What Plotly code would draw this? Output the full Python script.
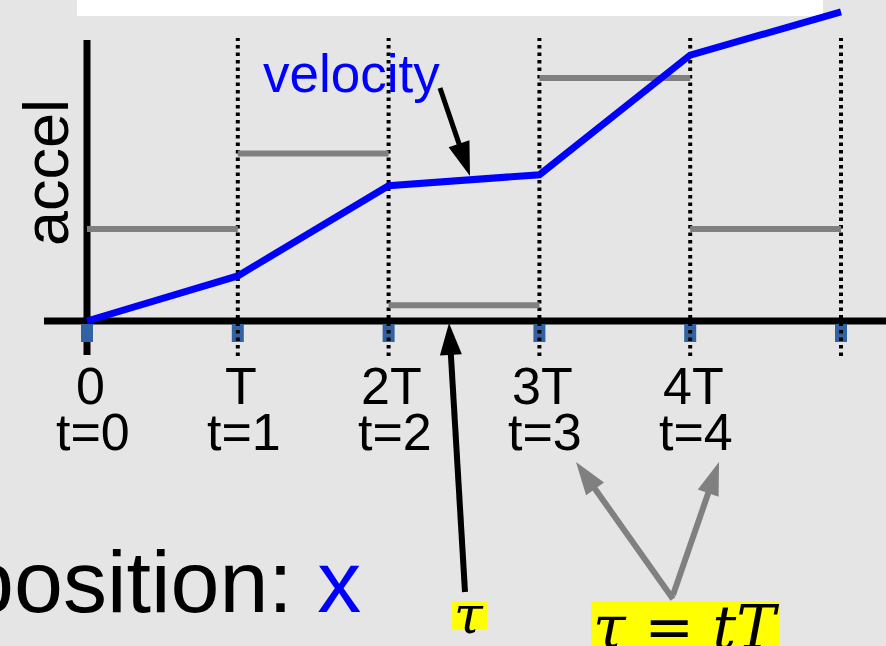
import math
import plotly.graph_objects as go

# ---------------- data ----------------
t_knots = [0, 1, 2, 3, 4, 5]
velocity = [0.0, 0.49, 1.47, 1.59, 2.89, 3.36]
accel = [1.0, 1.82, 0.17, 2.64, 1.0]
tick_top = ["0", "T", "2T", "3T", "4T"]
tick_bottom = ["t=0", "t=1", "t=2", "t=3", "t=4"]

# ---------------- geometry ----------------
W, H = 886, 646
X0, XS = 87, 150.8   # pixel of t=0, pixels per unit of t
Y0, YS = 321, 92     # pixel of value 0, pixels per unit value
xr = [(0 - X0) / XS, (W - X0) / XS]
yr = [(Y0 - H) / YS, Y0 / YS]


def px(x):
    return x / W


def py(y):
    return 1 - y / H


def vy(p):  # pixel row -> data value
    return (Y0 - p) / YS


def tx(p):  # pixel col -> t value
    return (p - X0) / XS


FONT = "Arial, Liberation Sans, sans-serif"
BLUE = "#0000ff"
GRAY = "#808080"

fig = go.Figure()

# acceleration steps
ax_, ay_ = [], []
for i, a in enumerate(accel):
    ax_ += [t_knots[i], t_knots[i + 1], None]
    ay_ += [a, a, None]
fig.add_trace(go.Scatter(x=ax_, y=ay_, mode="lines",
                         line=dict(color=GRAY, width=6), hoverinfo="skip"))
# velocity
fig.add_trace(go.Scatter(x=t_knots, y=velocity, mode="lines",
                         line=dict(color=BLUE, width=7), hoverinfo="skip"))

shapes = []
# white strip at the top
shapes.append(dict(type="rect", xref="paper", yref="paper", x0=px(77), x1=px(823),
                   y0=py(16), y1=py(-5), fillcolor="white", line=dict(width=0), layer="below"))
# axes
shapes.append(dict(type="line", xref="x", yref="y", x0=0, x1=0, y0=vy(355), y1=vy(40),
                   line=dict(color="black", width=7), layer="below"))
shapes.append(dict(type="line", xref="x", yref="y", x0=tx(44), x1=xr[1] + 0.1, y0=0, y1=0,
                   line=dict(color="black", width=7), layer="below"))
# tick squares
for t in t_knots:
    shapes.append(dict(type="rect", xref="x", yref="y", x0=t - 6 / XS, x1=t + 6 / XS,
                       y0=vy(342), y1=vy(324), fillcolor="#3163a3", line=dict(width=0),
                       layer="below"))
# dotted grid lines
for t in t_knots[1:]:
    shapes.append(dict(type="line", xref="x", yref="y", x0=t, x1=t, y0=vy(356), y1=vy(38),
                       line=dict(color="black", width=4, dash="3.5px,4px"), layer="below"))

# yellow highlight boxes
shapes.append(dict(type="rect", xref="paper", yref="paper", x0=px(452), x1=px(487),
                   y0=py(629), y1=py(601), fillcolor="#ffff00", line=dict(width=0)))
shapes.append(dict(type="rect", xref="paper", yref="paper", x0=px(591), x1=px(780),
                   y0=py(650), y1=py(601), fillcolor="#ffff00", line=dict(width=0)))


def arrow(tail, tip, color, width, hl=32, hw=22):
    dx, dy = tip[0] - tail[0], tip[1] - tail[1]
    L = math.hypot(dx, dy)
    ux, uy = dx / L, dy / L
    bx, by = tip[0] - ux * hl, tip[1] - uy * hl
    nx, ny = -uy, ux
    shapes.append(dict(type="line", xref="paper", yref="paper",
                       x0=px(tail[0]), y0=py(tail[1]),
                       x1=px(bx + ux * 3), y1=py(by + uy * 3),
                       line=dict(color=color, width=width)))
    p1 = (bx + nx * hw / 2, by + ny * hw / 2)
    p2 = (bx - nx * hw / 2, by - ny * hw / 2)
    path = (f"M{px(tip[0])},{py(tip[1])} L{px(p1[0])},{py(p1[1])} "
            f"L{px(p2[0])},{py(p2[1])} Z")
    shapes.append(dict(type="path", xref="paper", yref="paper", path=path,
                       fillcolor=color, line=dict(width=0)))


arrow((440, 88), (470, 176), "black", 5, hl=34, hw=22)
arrow((465, 592), (449, 323), "black", 6, hl=32, hw=22)
arrow((673, 599), (576, 462), GRAY, 6, hl=33, hw=22)
arrow((673, 595), (719, 462), GRAY, 6, hl=33, hw=22)

annotations = []
for i, (a, b) in enumerate(zip(tick_top, tick_bottom)):
    annotations.append(dict(xref="x", yref="paper", x=t_knots[i], xshift=3, y=py(386),
                            text=a, showarrow=False, xanchor="center", yanchor="middle",
                            font=dict(family=FONT, size=52, color="black")))
    annotations.append(dict(xref="x", yref="paper", x=t_knots[i], xshift=6, y=py(432),
                            text=b, showarrow=False, xanchor="center", yanchor="middle",
                            font=dict(family=FONT, size=52, color="black")))

annotations.append(dict(xref="paper", yref="paper", x=px(351), y=py(73.5), text="velocity",
                        showarrow=False, xanchor="center", yanchor="middle",
                        font=dict(family=FONT, size=53, color=BLUE)))
annotations.append(dict(xref="paper", yref="paper", x=px(46), y=py(173), text="accel",
                        textangle=-90, showarrow=False, xanchor="center", yanchor="middle",
                        font=dict(family=FONT, size=63, color="black")))
annotations.append(dict(xref="paper", yref="paper", x=px(363), y=py(581),
                        text="position: <span style='color:#0000ff'>x</span>",
                        showarrow=False, xanchor="right", yanchor="middle",
                        font=dict(family=FONT, size=88, color="black")))
annotations.append(dict(xref="paper", yref="paper", x=px(469), y=py(615), text="<i>τ</i>",
                        showarrow=False, xanchor="center", yanchor="middle",
                        font=dict(family="DejaVu Serif, serif", size=52, color="black")))
annotations.append(dict(xref="paper", yref="paper", x=px(686), y=py(627),
                        text="<i>τ</i> = <i>tT</i>",
                        showarrow=False, xanchor="center", yanchor="middle",
                        font=dict(family="DejaVu Serif, serif", size=59, color="black")))

fig.update_layout(
    width=W, height=H, margin=dict(l=0, r=0, t=0, b=0),
    paper_bgcolor="#e5e5e5", plot_bgcolor="#e5e5e5",
    showlegend=False,
    xaxis=dict(range=xr, visible=False, fixedrange=True),
    yaxis=dict(range=yr, visible=False, fixedrange=True),
    shapes=shapes, annotations=annotations,
)

fig.write_html("out.html", config={"displayModeBar": False},
               post_script="document.body.style.margin='0';document.body.style.overflow='hidden';")
